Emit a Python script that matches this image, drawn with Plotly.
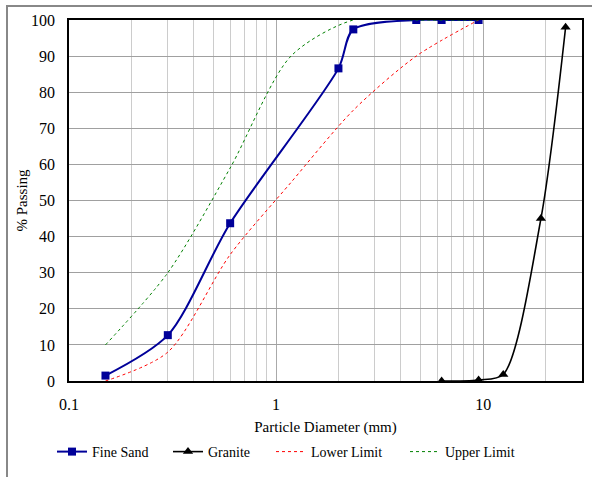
import math
import plotly.graph_objects as go

# ---- data ----
sand_size = [0.15, 0.3, 0.6, 2.0, 2.36, 4.75, 6.3, 9.5]
sand_pass = [1.5, 12.7, 43.7, 86.6, 97.4, 100, 100, 100]

granite_size = [6.3, 9.5, 12.5, 19.0, 25.0]
granite_pass = [0.0, 0.3, 1.8, 45.0, 98.0]

limit_size = [0.15, 0.3, 0.6, 1.18, 2.36, 4.75, 9.5]
lower_limit = [0, 8, 35, 55, 75, 90, 100]
upper_limit = [10, 30, 59, 90, 100, 100, 100]

x_ticks = [0.1, 1, 10]
x_tick_labels = ["0.1", "1", "10"]
x_minor = [0.2, 0.3, 0.4, 0.5, 0.6, 0.7, 0.8, 0.9,
           2, 3, 4, 5, 6, 7, 8, 9, 20]

FONT = "Liberation Serif"

fig = go.Figure()
fig.add_trace(go.Scatter(
    x=sand_size, y=sand_pass, name="Fine Sand", mode="lines+markers",
    line=dict(color="#000099", width=2, shape="spline", smoothing=0.8),
    marker=dict(symbol="square", size=8, color="#000099"),
    legend="legend"))
fig.add_trace(go.Scatter(
    x=granite_size, y=granite_pass, name="Granite", mode="lines+markers",
    line=dict(color="black", width=1.6, shape="spline", smoothing=0.8),
    marker=dict(symbol="triangle-up", size=9, color="black"),
    legend="legend2"))
fig.add_trace(go.Scatter(
    x=limit_size, y=lower_limit, name="Lower Limit", mode="lines",
    line=dict(color="#ff0000", width=1, dash="dot", shape="spline", smoothing=0.8),
    legend="legend3"))
fig.add_trace(go.Scatter(
    x=limit_size, y=upper_limit, name="Upper Limit", mode="lines",
    line=dict(color="#008000", width=1, dash="dot", shape="spline", smoothing=0.8),
    legend="legend4"))

L, R, T, B = 69, 10, 20, 96
W, H = 592, 477
pw = W - L - R
ph = H - T - B

def px2paper_x(px):
    return (px - L) / pw

def px2paper_y(py):
    return (H - B - py) / ph

legend_common = dict(orientation="h", yanchor="middle", xanchor="left",
                     xref="container", yref="container",
                     font=dict(family=FONT, size=14, color="black"),
                     bgcolor="rgba(0,0,0,0)", itemwidth=30,
                     tracegroupgap=0)
leg_y = 1 - 452 / H

fig.update_layout(
    width=W, height=H,
    margin=dict(l=L, r=R, t=T, b=B, autoexpand=False),
    paper_bgcolor="white", plot_bgcolor="white",
    font=dict(family=FONT, size=16, color="black"),
    showlegend=True,
    legend=dict(x=52 / W, y=leg_y, **legend_common),
    legend2=dict(x=168 / W, y=leg_y, **legend_common),
    legend3=dict(x=271 / W, y=leg_y, **legend_common),
    legend4=dict(x=405 / W, y=leg_y, **legend_common),
    xaxis=dict(
        type="log", range=[-1, math.log10(30)],
        tickvals=x_ticks, ticktext=x_tick_labels, ticks="",
        showgrid=True, gridcolor="#aaaaaa", gridwidth=1,
        minor=dict(tickvals=x_minor, showgrid=True, gridcolor="#cccccc",
                   gridwidth=1, ticks=""),
        showline=True, linecolor="black", linewidth=1.5, mirror=True,
        zeroline=False, automargin=False, ticklabelstandoff=8,
        tickfont=dict(family=FONT, size=16),
        title=dict(text="Particle Diameter (mm)", standoff=10,
                   font=dict(family=FONT, size=15)),
    ),
    yaxis=dict(
        range=[0, 100], dtick=10, ticks="",
        showgrid=True, gridcolor="#a0a0a0", gridwidth=1,
        showline=True, linecolor="black", linewidth=1.5, mirror=True,
        zeroline=False, automargin=False, ticklabelstandoff=9,
        tickfont=dict(family=FONT, size=16),
        title=dict(text="% Passing", standoff=0,
                   font=dict(family=FONT, size=15)),
    ),
    shapes=[
        dict(type="line", xref="paper", yref="paper",
             x0=px2paper_x(7), x1=px2paper_x(600),
             y0=px2paper_y(6), y1=px2paper_y(6),
             line=dict(color="#888888", width=2)),
        dict(type="line", xref="paper", yref="paper",
             x0=px2paper_x(7), x1=px2paper_x(7),
             y0=px2paper_y(5), y1=px2paper_y(485),
             line=dict(color="#888888", width=2)),
    ],
)

fig.write_html("out.html",
               config={"displayModeBar": False},
               post_script="document.body.style.margin='0';document.body.style.overflow='hidden';")
